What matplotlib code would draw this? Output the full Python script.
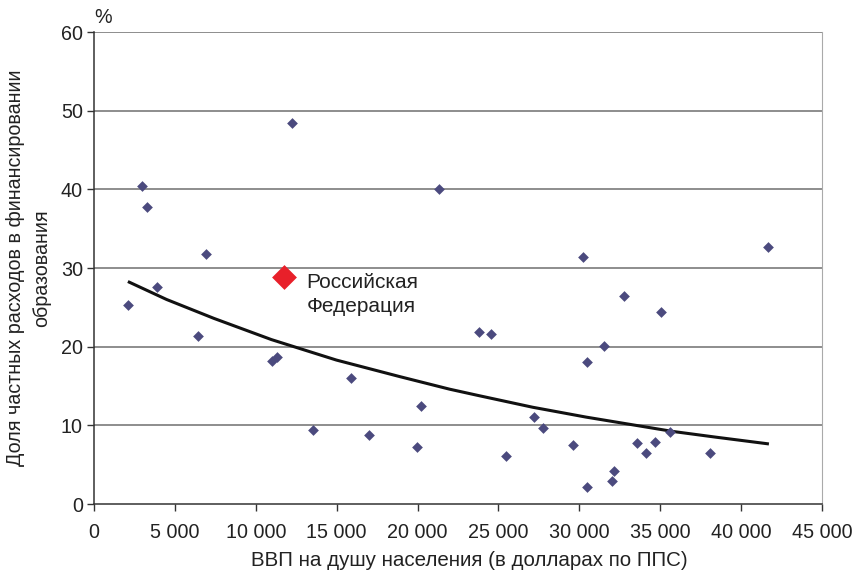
import matplotlib.pyplot as plt
from matplotlib.ticker import FuncFormatter, MultipleLocator

plt.rcParams['font.family'] = ['Liberation Sans', 'DejaVu Sans']

# ВВП на душу населения (долл. по ППС) и доля частных расходов, %
gdp = [2117, 2944, 3253, 3870, 6439, 6896, 11031, 11315, 12241, 13537,
       15908, 16995, 19958, 20186, 21316, 23828, 24550, 25475, 27203, 27777,
       29588, 30248, 30453, 30453, 31526, 31996, 32120, 32737, 33539, 34119,
       34675, 35045, 35601, 38069, 41649]
share = [25.3, 40.4, 37.7, 27.6, 21.4, 31.8, 18.2, 18.7, 48.45, 9.35,
         16.0, 8.8, 7.3, 12.45, 40.0, 21.9, 21.6, 6.05, 11.0, 9.6,
         7.5, 31.45, 18.0, 2.15, 20.15, 2.9, 4.2, 26.5, 7.7, 6.45,
         7.9, 24.4, 9.2, 6.5, 32.7]

russia_gdp = 11772
russia_share = 28.9
russia_label = 'Российская\nФедерация'

# линия тренда
trend_x = [2180, 4486, 7408, 10968, 14982, 18890, 21975, 23827, 27117,
           30410, 33290, 35760, 38430, 41625]
trend_y = [28.2, 26.0, 23.6, 20.9, 18.3, 16.2, 14.6, 13.76, 12.3,
           11.05, 10.07, 9.23, 8.5, 7.66]

fig = plt.figure(figsize=(8.61, 5.77), dpi=100)
ax = fig.add_axes([0.1092, 0.1265, 0.8455, 0.818])

for y in range(10, 61, 10):
    ax.axhline(y, color='#7A7A7A', lw=1.2, zorder=1)

ax.plot(trend_x, trend_y, color='#111111', lw=2.2, zorder=2)
ax.scatter(gdp, share, marker='D', s=30, color='#4B4A7E', linewidths=0, zorder=3)
ax.scatter([russia_gdp], [russia_share], marker='D', s=160, color='#E8202A',
           linewidths=0, zorder=4)
ax.annotate(russia_label, xy=(russia_gdp, russia_share), xytext=(16, 3),
            textcoords='offset points', fontsize=15, va='top', ha='left',
            color='#222222', linespacing=1.35)

ax.set_xlim(0, 45000)
ax.set_ylim(0, 60)
ax.xaxis.set_major_locator(MultipleLocator(5000))
ax.yaxis.set_major_locator(MultipleLocator(10))
ax.xaxis.set_major_formatter(FuncFormatter(lambda v, p: f'{int(v):,}'.replace(',', ' ')))

ax.tick_params(axis='both', direction='out', length=5, width=1, color='#333333',
               labelsize=14.2, labelcolor='#222222')
ax.tick_params(axis='x', pad=9)
ax.tick_params(axis='y', pad=3)

ax.spines['top'].set_visible(False)
ax.spines['right'].set_color('#AAAAAA')
ax.spines['left'].set_color('#333333')
ax.spines['bottom'].set_color('#333333')
ax.spines['left'].set_linewidth(1.1)
ax.spines['bottom'].set_linewidth(1.1)

ax.set_xlabel('ВВП на душу населения (в долларах по ППС)', fontsize=14.8,
              color='#222222', x=0.516, labelpad=6)
ax.set_ylabel('Доля частных расходов в финансировании\nобразования', fontsize=14.2,
              color='#222222', labelpad=7, linespacing=1.5)
ax.text(0.0, 1.01, '%', transform=ax.transAxes, fontsize=14.2, color='#222222',
        ha='left', va='bottom')

fig.savefig('out.png', dpi=100)
